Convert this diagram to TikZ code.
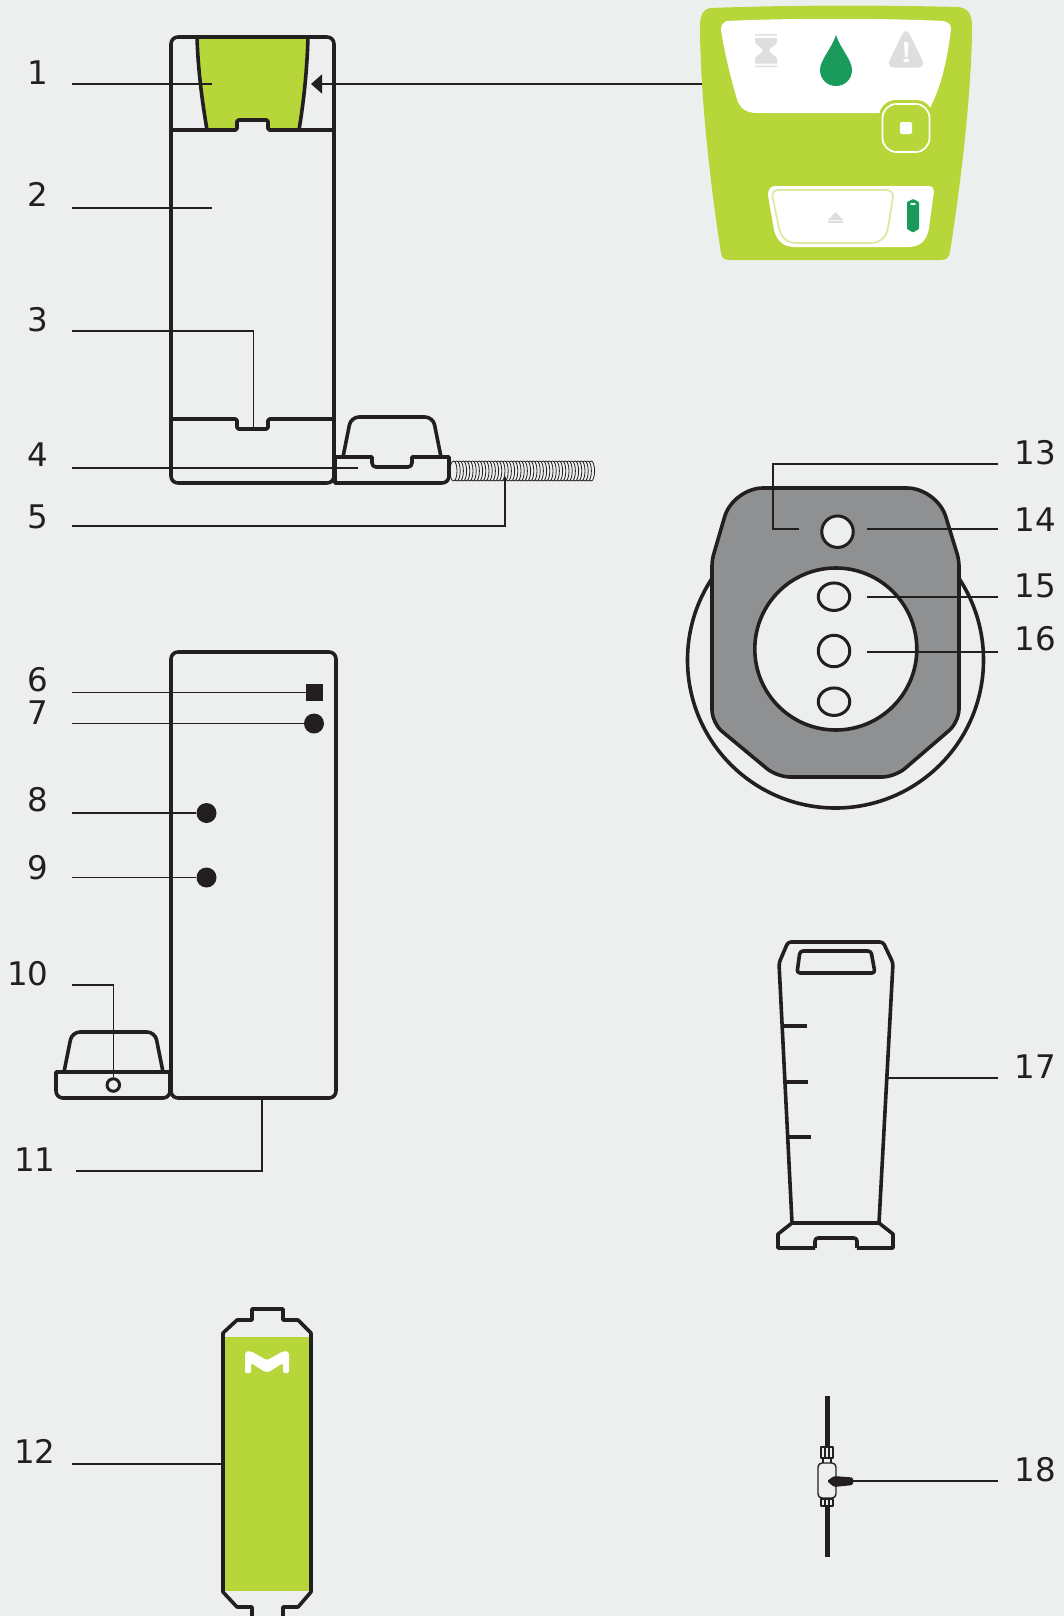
\documentclass[tikz,border=0pt]{standalone}
\usepackage{fontspec}
\usepackage{xcolor}
\usepackage{tikz}
\usetikzlibrary{arrows.meta, positioning, calc, shapes.geometric}
\setmainfont{DejaVu Sans}
\definecolor{bgcol}{RGB}{237,239,238}
\definecolor{inkcol}{RGB}{35,31,32}
\definecolor{limecol}{RGB}{183,214,58}
\definecolor{palecol}{RGB}{221,233,160}
\definecolor{dropcol}{RGB}{26,155,91}
\definecolor{iconcol}{RGB}{222,222,222}
\definecolor{platecol}{RGB}{143,144,146}

\begin{document}
\begin{tikzpicture}[
  x=0.02cm, y=-0.02cm,
  numl/.style={font=\fontsize{18.5}{22}\selectfont, text=inkcol, anchor=base east, inner xsep=0.46cm, inner ysep=0},
  numr/.style={font=\fontsize{18.5}{22}\selectfont, text=inkcol, anchor=base west, inner xsep=0.32cm, inner ysep=0},
  lead/.style={draw=inkcol, line width=0.032cm},
  body/.style={draw=inkcol, line width=0.072cm, line join=round},
  thin body/.style={draw=inkcol, line width=0.028cm, line join=round},
  dot/.style={circle, fill=inkcol, minimum size=0.4cm, inner sep=0},
  hole/.style={ellipse, draw=inkcol, line width=0.06cm, fill=bgcol, inner sep=0}
]
  \fill[bgcol] (0,0) rectangle (1064,1616);
  \useasboundingbox (0,0) rectangle (1064,1616);

  \fill[limecol] (710,8) .. controls (790,5) and (880,5) .. (958,7) .. controls (968,8) and (972,14) .. (972,26)
    .. controls (972,70) and (966,150) .. (950,252) .. controls (949,258) and (946,260) .. (940,260)
    -- (730,260) .. controls (724,260) and (722,258) .. (721,253) .. controls (705,150) and (700,70) .. (700,26)
    .. controls (700,14) and (704,9) .. (710,8) -- cycle;
  \fill[white] (727,21) .. controls (790,18) and (880,18) .. (943,21) .. controls (949,22) and (951,25) .. (951,29)
    .. controls (948,55) and (942,85) .. (930,108) -- (880,113) -- (758,113)
    .. controls (745,113) and (739,108) .. (736,96) .. controls (730,75) and (724,50) .. (721,30)
    .. controls (721,25) and (723,22) .. (727,21) -- cycle;
  \fill[limecol, rounded corners=0.34cm] (879,100) rectangle (933,155);
  \draw[white, line width=0.035cm, rounded corners=0.28cm] (882.5,104) rectangle (929.5,152);
  \fill[white, rounded corners=0.04cm] (900,122) rectangle (912,134);
  \fill[iconcol] (755,34) rectangle (777,35.5) (755,65.5) rectangle (777,67);
  \fill[iconcol] (755,38) -- (777,38) -- (777,42) .. controls (776,46) and (770,47) .. (769,50.5)
    .. controls (770,54) and (776,55) .. (777,59) -- (777,63.5) -- (755,63.5) -- (755,59)
    .. controls (756,55) and (762,54) .. (763,50.5) .. controls (762,47) and (756,46) .. (755,42) -- cycle;
  \fill[dropcol] (836,35) .. controls (832,48) and (820,60) .. (820,70) .. controls (820,79) and (827,86) .. (836,86)
    .. controls (845,86) and (852,79) .. (852,70) .. controls (852,60) and (840,48) .. (836,35) -- cycle;
  \fill[iconcol, rounded corners=0.16cm] (906,27) -- (926,67.5) -- (886,67.5) -- cycle;
  \fill[white] (904,42) -- (908.5,42) -- (907.5,57) -- (905,57) -- cycle;
  \fill[white] (906.2,60.5) ellipse [x radius=3, y radius=1.8];
  \fill[white] (775,186) -- (928,186) .. controls (932,186) and (934,188) .. (934,191) -- (929,228)
    .. controls (927,240) and (921,247) .. (908,247) -- (795,247) .. controls (783,247) and (777,241) .. (774,230)
    -- (768,195) .. controls (768,189) and (771,186) .. (775,186) -- cycle;
  \draw[palecol, line width=0.035cm] (778,190) -- (886,190) .. controls (891,190) and (893,193) .. (893,197) -- (888,228)
    .. controls (886,238) and (880,243) .. (870,243) -- (797,243) .. controls (787,243) and (781,238) .. (779,228)
    -- (772.5,197) .. controls (772,193) and (774,190) .. (778,190) -- cycle;
  \fill[iconcol] (835.5,212) -- (843,220) -- (828,220) -- cycle;
  \fill[iconcol] (828,221.3) rectangle (843,223.3);
  \fill[dropcol, rounded corners=0.015cm] (913,199) -- (919,202) -- (919,229) -- (913,232.5) -- (907,229) -- (907,202) -- cycle;
  \fill[white] (913,204) ellipse [x radius=3, y radius=1];

  \fill[limecol] (197,37) .. controls (198,70) and (202,100) .. (207,130) -- (237,130) -- (237,120) -- (268,120) -- (268,130)
    -- (299,130) .. controls (304,100) and (307,70) .. (308,37) -- cycle;
  \draw[body] (197,37) .. controls (198,70) and (202,100) .. (207,130);
  \draw[body] (308,37) .. controls (307,70) and (304,100) .. (299,130);
  \draw[body, rounded corners=0.14cm] (171,130) -- (171,37) -- (334,37) -- (334,130);
  \draw[body, rounded corners=0.14cm] (171,130) -- (171,483) -- (334,483) -- (334,130);
  \draw[body, rounded corners=0.03cm] (171,130) -- (237,130) -- (237,120) -- (268,120) -- (268,130) -- (334,130);
  \draw[body, rounded corners=0.03cm] (171,419) -- (237,419) -- (237,429) -- (268,429) -- (268,419) -- (334,419);
  \foreach \k in {43,...,0} {
    \filldraw[draw=inkcol, fill=bgcol, line width=0.016cm] ({453.5+3.2*\k},471) ellipse [x radius=3.5, y radius=10];
  }
  \draw[body] (335,483) [rounded corners=0.14cm] -- (449,483) [sharp corners] -- (449,457) -- (412,457)
    [rounded corners=0.08cm] -- (412,467) -- (372,467) [sharp corners] -- (372,457) -- (335,457) -- cycle;
  \draw[body, rounded corners=0.16cm] (343,457) -- (351,417) -- (433,417) -- (441,457);

  \draw[body, rounded corners=0.14cm] (171,652) rectangle (336,1098);
  \draw[body] (100,1098) [rounded corners=0.14cm] -- (170,1098) [sharp corners] -- (170,1072) -- (56,1072)
    [rounded corners=0.14cm] -- (56,1098) -- (100,1098);
  \draw[body, rounded corners=0.16cm] (64,1072) -- (72,1032) -- (155,1032) -- (163,1072);
  \node[rectangle, fill=inkcol, minimum size=0.34cm, inner sep=0] (sq6) at (314.5,692.5) {};
  \node[dot] (dot7) at (314,723.5) {};
  \node[dot] (dot8) at (206.5,813) {};
  \node[dot] (dot9) at (206.5,877.5) {};
  \node[circle, draw=inkcol, line width=0.06cm, minimum size=0.25cm, inner sep=0] (ring10) at (113.3,1085) {};

  \fill[limecol] (223,1337) rectangle (311,1591);
  \draw[body] (252,1618) -- (252,1607) -- (237,1607) -- (223,1592) -- (223,1333) -- (237,1320) -- (252,1320) -- (252,1309)
    -- (283,1309) -- (283,1320) -- (298,1320) -- (311,1333) -- (311,1592) -- (298,1607) -- (283,1607) -- (283,1618);
  \fill[white, rounded corners=0.03cm] (245,1353) .. controls (247,1351) and (251,1351) .. (254,1353) -- (263,1358) .. controls (266,1360) and (268,1360) .. (271,1358)
    -- (280,1353) .. controls (283,1351) and (287,1351) .. (289,1353) -- (289,1373) -- (283,1373) -- (283,1363)
    -- (272,1370) .. controls (268,1372.5) and (266,1372.5) .. (262,1370) -- (251,1363) -- (251,1373) -- (245,1373) -- cycle;

  \draw[body] (835.5,660) circle [radius=148];
  \filldraw[body, fill=platecol] (835,488) [rounded corners=0.6cm] -- (937,488) [rounded corners=0.12cm] -- (959,560)
    [rounded corners=0.26cm] -- (959,722) -- (895,777) -- (777,777) -- (712,723) [rounded corners=0.12cm] -- (712,560)
    [rounded corners=0.6cm] -- (733,488) [sharp corners] -- cycle;
  \filldraw[body, fill=bgcol] (835.8,649) circle [radius=81];
  \node[hole, minimum width=0.63cm, minimum height=0.63cm] (hole14) at (837.5,531.7) {};
  \node[hole, minimum width=0.63cm, minimum height=0.55cm] (hole15) at (834,596.7) {};
  \node[hole, minimum width=0.63cm, minimum height=0.63cm] (hole16) at (834,651) {};
  \node[hole, minimum width=0.63cm, minimum height=0.55cm] (hole17) at (834,701.7) {};

  \draw[body, rounded corners=0.06cm] (792,1223) -- (779,963) -- (788,942) -- (883,942) -- (893,963) -- (879,1223);
  \draw[body] (792,1223) -- (879,1223) -- (893,1234) -- (893,1248) -- (857,1248);
  \draw[body] (792,1223) -- (778,1234) -- (778,1248) -- (815,1248);
  \draw[body, rounded corners=0.06cm] (815,1248) -- (815,1238) -- (857,1238) -- (857,1248);
  \draw[body, rounded corners=0.06cm] (800,951) -- (871,951) -- (875,973) -- (797,973) -- cycle;
  \draw[body] (783,1026) -- (807,1026);
  \draw[body] (786,1082) -- (808,1082);
  \draw[body] (789,1137) -- (811,1137);

  \draw[inkcol, line width=0.1cm] (827,1396) -- (827,1447);
  \draw[inkcol, line width=0.1cm] (827,1506) -- (827,1557);
  \draw[thin body] (821,1447) rectangle (833,1458);
  \draw[thin body] (825,1447) -- (825,1458);
  \draw[thin body] (829,1447) -- (829,1458);
  \draw[thin body] (823,1458) -- (823,1463);
  \draw[thin body] (831,1458) -- (831,1463);
  \draw[thin body, rounded corners=0.08cm] (818,1463) rectangle (836,1498);
  \draw[thin body] (821,1499) rectangle (833,1506);
  \draw[thin body] (825,1499) -- (825,1506);
  \draw[thin body] (829,1499) -- (829,1506);
  \fill[inkcol, rounded corners=0.03cm] (827,1481) -- (834,1476) -- (853,1477.5) -- (853,1485) -- (834,1487) -- cycle;

  \node[numl] (n1) at (72,84) {1};
  \node[numl] (n2) at (72,206) {2};
  \node[numl] (n3) at (72,331) {3};
  \node[numl] (n4) at (72,466) {4};
  \node[numl] (n5) at (72,528.5) {5};
  \node[numl] (n6) at (72,691) {6};
  \node[numl] (n7) at (72,724) {7};
  \node[numl] (n8) at (72,811) {8};
  \node[numl] (n9) at (72,879.5) {9};
  \node[numl] (n10) at (72,985) {10};
  \node[numl, inner xsep=0.4cm] (n11) at (76,1171) {11};
  \node[numl, inner xsep=0.32cm] (n12) at (72,1463) {12};
  \node[numr] (n13) at (998,464) {13};
  \node[numr] (n14) at (998,531) {14};
  \node[numr] (n15) at (998,597) {15};
  \node[numr] (n16) at (998,650) {16};
  \node[numr] (n17) at (998,1078) {17};
  \node[numr] (n18) at (998,1481) {18};

  \coordinate (e1) at (212,84);
  \coordinate (panelL) at (702,84);
  \coordinate (arrowT) at (311,84);
  \coordinate (e2) at (212,208);
  \coordinate (e3) at (253.5,428);
  \coordinate (e4) at (358,468);
  \coordinate (e5) at (505,477);
  \coordinate (b5) at (72,526);
  \coordinate (e11) at (262,1098);
  \coordinate (e12) at (223,1464);
  \coordinate (b13) at (773,464);
  \coordinate (e13) at (799,529);
  \coordinate (e14) at (867,529);
  \coordinate (e15) at (867,597);
  \coordinate (e16) at (867,652);
  \coordinate (e17) at (888,1078);
  \coordinate (e18) at (853,1481);

  \draw[lead] (n1.base east) -- (e1);
  \draw[lead, -{Triangle[length=0.22cm, width=0.38cm]}] (panelL) -- (arrowT);
  \draw[lead] (e2 -| n2.base east) -- (e2);
  \draw[lead] (n3.base east) -| (e3);
  \draw[lead] (e4 -| n4.base east) -- (e4);
  \draw[lead] (b5 -| n5.base east) -| (e5);
  \draw[lead] (sq6 -| n6.base east) -- (sq6.west);
  \draw[lead] (dot7 -| n7.base east) -- (dot7.west);
  \draw[lead] (dot8 -| n8.base east) -- (dot8.west);
  \draw[lead] (dot9 -| n9.base east) -- (dot9.west);
  \draw[lead] (n10.base east) -| (ring10.north);
  \draw[lead] (n11.base east) -| (e11);
  \draw[lead] (e12 -| n12.base east) -- (e12);
  \draw[lead] (n13.base west) -- (b13) |- (e13);
  \draw[lead] (e14 -| n14.base west) -- (e14);
  \draw[lead] (n15.base west) -- (e15);
  \draw[lead] (e16 -| n16.base west) -- (e16);
  \draw[lead] (n17.base west) -- (e17);
  \draw[lead] (n18.base west) -- (e18);
\end{tikzpicture}
\end{document}
